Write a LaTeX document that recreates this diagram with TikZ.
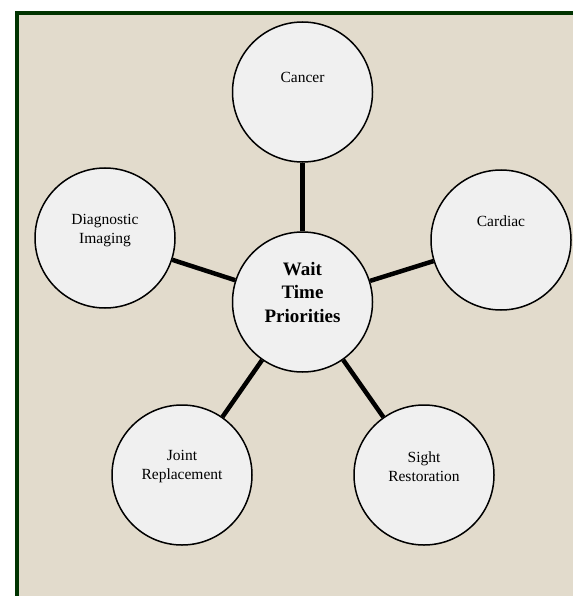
\documentclass[tikz,border=0pt]{standalone}
\usepackage{fontspec}
\setmainfont{Liberation Serif}
\definecolor{framegreen}{RGB}{0,51,0}
\definecolor{paper}{RGB}{226,219,204}
\definecolor{bubble}{RGB}{240,240,240}

\begin{document}
\begin{tikzpicture}[x=1pt,y=-1pt,
  topic/.style={circle,draw,line width=1.5pt,fill=bubble,minimum size=140pt,inner sep=0pt},
  caption/.style={align=center,font=\fontsize{15.5}{19}\selectfont},
  spoke/.style={line width=4.5pt}]
  \useasboundingbox (0,0) rectangle (573,596);
  \fill[framegreen] (15,11) rectangle (573,596);
  \fill[paper] (19,15) rectangle (573,596);
  % circles
  \node[topic] (hub) at (302.5,302) {};
  \node[topic] (cancer) at (302.5,92) {};
  \node[topic] (diag) at (105,238) {};
  \node[topic] (cardiac) at (501,240) {};
  \node[topic] (joint) at (182,475) {};
  \node[topic] (sight) at (424,475) {};
  % spokes
  \draw[spoke] (hub) -- (cancer);
  \draw[spoke] (hub) -- (diag);
  \draw[spoke] (hub) -- (cardiac);
  \draw[spoke] (hub) -- (joint);
  \draw[spoke] (hub) -- (sight);
  % texts
  \node[align=center,font=\bfseries\fontsize{19}{23.5}\selectfont] (hubtext) at ([yshift=10pt]hub) {Wait\\Time\\Priorities};
  \node[caption] (cancertext) at ([yshift=15pt]cancer) {Cancer};
  \node[caption] (diagtext) at ([yshift=7pt]diag) {Diagnostic\\Imaging};
  \node[caption] (cardiactext) at ([yshift=19pt]cardiac) {Cardiac};
  \node[caption] (jointtext) at ([yshift=8pt]joint) {Joint\\Replacement};
  \node[caption] (sighttext) at ([yshift=8pt]sight) {Sight\\Restoration};
\end{tikzpicture}
\end{document}
